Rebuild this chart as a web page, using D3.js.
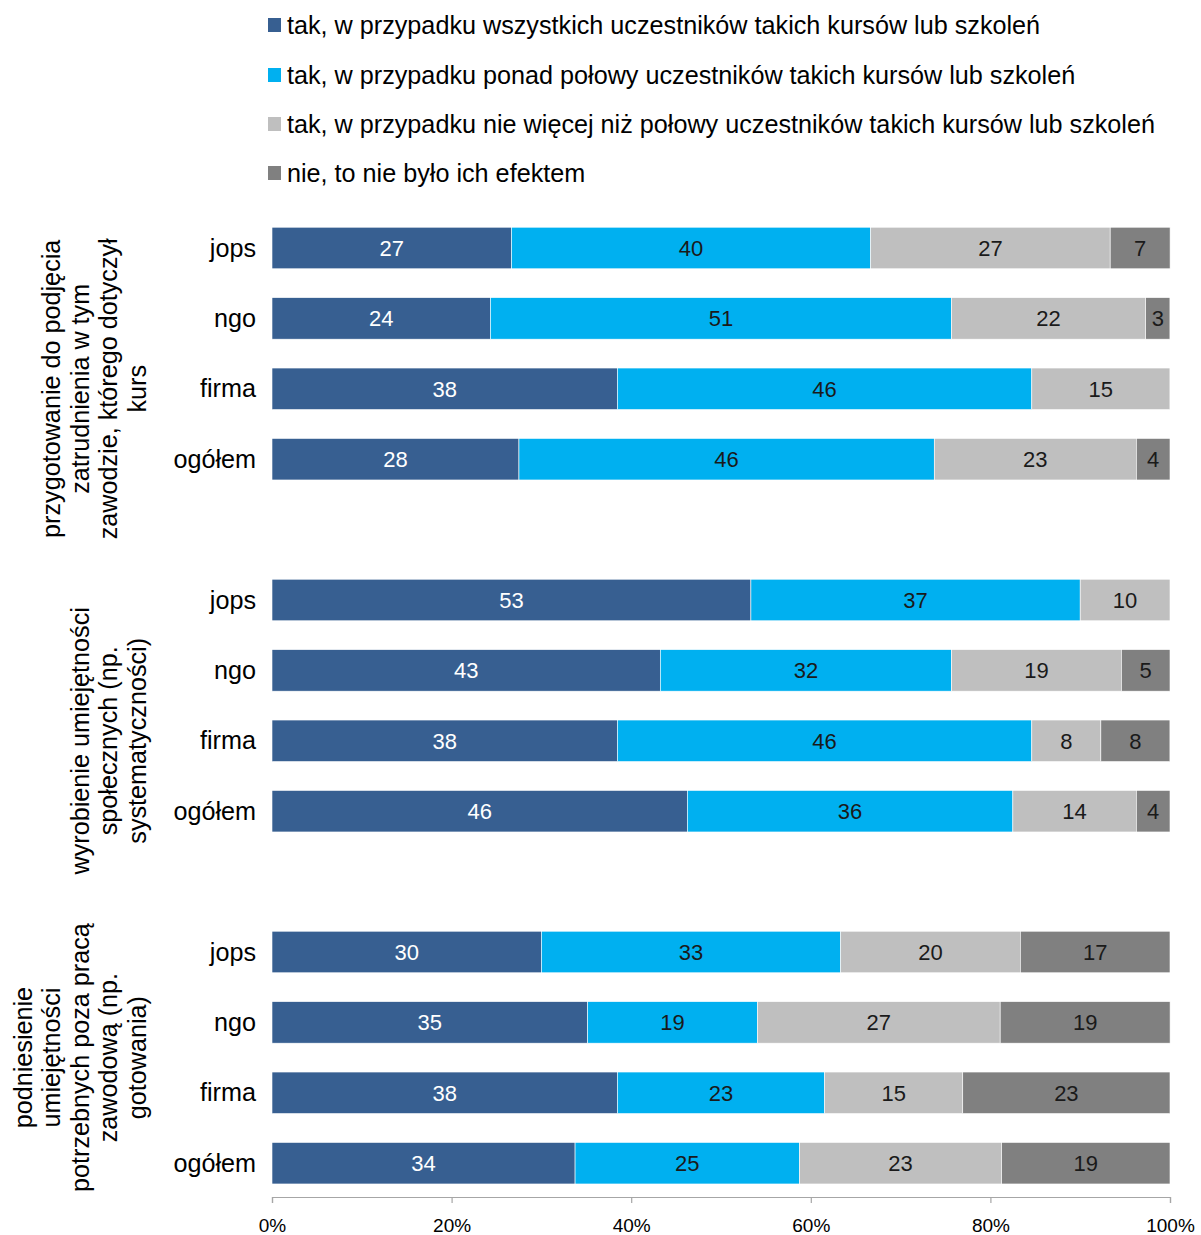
<!DOCTYPE html>
<html><head><meta charset="utf-8">
<script src="https://cdn.jsdelivr.net/npm/d3@7"></script>
<style>body{margin:0;background:#fff;} svg{display:block;font-family:"Liberation Sans",Arial,sans-serif;}</style>
</head><body>
<svg id="chart" width="1201" height="1235"></svg>
<script>
// Data
const seriesNames = [
  "tak, w przypadku wszystkich uczestników takich kursów lub szkoleń",
  "tak, w przypadku ponad połowy uczestników takich kursów lub szkoleń",
  "tak, w przypadku nie więcej niż połowy uczestników takich kursów lub szkoleń",
  "nie, to nie było ich efektem"
];
const seriesColors = ["#375f91", "#00b0f0", "#bfbfbf", "#808080"];
const labelColors = ["#ffffff", "#1a1a1a", "#1a1a1a", "#1a1a1a"];
const groupLabels = [
  ["przygotowanie do podjęcia", "zatrudnienia w tym", "zawodzie, którego dotyczył", "kurs"],
  ["wyrobienie umiejętności", "społecznych (np.", "systematyczności)"],
  ["podniesienie", "umiejętności", "potrzebnych poza pracą", "zawodową (np.", "gotowania)"]
];
const rowLabels = ["jops", "ngo", "firma", "ogółem"];
// rows: group index, row label ("" = spacer row between groups)
const rows = [
  {g:0,c:"jops"},{g:0,c:"ngo"},{g:0,c:"firma"},{g:0,c:"ogółem"},{g:0,c:""},
  {g:1,c:"jops"},{g:1,c:"ngo"},{g:1,c:"firma"},{g:1,c:"ogółem"},{g:1,c:""},
  {g:2,c:"jops"},{g:2,c:"ngo"},{g:2,c:"firma"},{g:2,c:"ogółem"}
];
// values per series, in order of non-blank rows (group1 jops..ogółem, group2, group3)
const sWszyscy = [26.67, 24.32, 38.46, 27.5,  53.33, 43.24, 38.46, 46.25,  30.0, 35.14, 38.46, 33.75];
const sPonad   = [40.0, 51.35, 46.15, 46.25,  36.67, 32.43, 46.15, 36.25,  33.33, 18.92, 23.08, 25.0];
const sNieWiecej = [26.67, 21.62, 15.38, 22.5,  10.0, 18.92, 7.69, 13.75,  20.0, 27.03, 15.38, 22.5];
const sNie     = [6.67, 2.70, 0, 3.75,  0, 5.41, 7.69, 3.75,  16.67, 18.92, 23.08, 18.75];
const tickValues = [0, 20, 40, 60, 80, 100];

const FS = 25.2;
const svg = d3.select("#chart");
const x = d3.scaleLinear().domain([0, 100]).range([272, 1170]);
const y = d3.scaleBand().domain(d3.range(rows.length)).range([212.8, 1198.4]).paddingInner(0.41).paddingOuter(0.205);

const series = [sWszyscy, sPonad, sNieWiecej, sNie];
const dataRows = rows.map((r,i)=>({...r, idx:i})).filter(r=>r.c!=="");
dataRows.forEach((r,k)=>{
  let acc = 0;
  r.segs = series.map((s,si)=>{ const v=s[k]; const seg={si, v, x0:acc, x1:acc+v}; acc+=v; return seg; });
});

// bars
const rowG = svg.append("g").selectAll("g").data(dataRows).join("g");
rowG.selectAll("rect").data(d=>d.segs.filter(s=>s.v>0).map(s=>({...s,row:d.idx}))).join("rect")
  .attr("x", s=>x(s.x0)).attr("width", s=>x(s.x1)-x(s.x0))
  .attr("y", s=>y(s.row)).attr("height", y.bandwidth())
  .attr("fill", s=>seriesColors[s.si])
  .attr("stroke", "#ffffff").attr("stroke-width", 0.6);
rowG.selectAll("text").data(d=>d.segs.filter(s=>s.v>0).map(s=>({...s,row:d.idx}))).join("text")
  .attr("x", s=>(x(s.x0)+x(s.x1))/2).attr("y", s=>y(s.row)+y.bandwidth()/2)
  .attr("dy","0.36em").attr("text-anchor","middle")
  .attr("font-size", 22).attr("fill", s=>labelColors[s.si])
  .text(s=>Math.round(s.v));

// row labels
svg.append("g").selectAll("text").data(dataRows).join("text")
  .attr("x", 256).attr("y", d=>y(d.idx)+y.bandwidth()/2).attr("dy","0.34em")
  .attr("text-anchor","end").attr("font-size", FS).attr("fill","#000")
  .text(d=>d.c);

// group labels
const step = y.step();
groupLabels.forEach((lines, gi)=>{
  const idxs = rows.map((r,i)=>({r,i})).filter(o=>o.r.g===gi).map(o=>o.i);
  const top = y(idxs[0]) - step*y.paddingInner()/2;
  const bot = y(idxs[idxs.length-1]) + y.bandwidth() + step*y.paddingInner()/2;
  const cy = (top+bot)/2;
  const lastX = 136.5, lh = 28.4;
  const t = svg.append("text").attr("transform", `translate(0,${cy}) rotate(-90)`)
    .attr("text-anchor","middle").attr("font-size", FS).attr("fill","#000");
  lines.forEach((ln, li)=>{
    const cx = lastX - (lines.length-1-li)*lh;
    t.append("tspan").attr("x",0).attr("y", cx).attr("dy","0.36em").text(ln);
  });
});

// x axis
const axY = 1197;
const axis = svg.append("g").attr("transform", `translate(0,${axY})`)
  .call(d3.axisBottom(x).tickValues(tickValues).tickFormat(d=>d+"%").tickSize(6).tickPadding(16));
axis.select(".domain").attr("stroke","#a6a6a6").attr("stroke-width",1.2);
axis.selectAll(".tick line").attr("stroke","#a6a6a6").attr("stroke-width",1.2);
axis.selectAll(".tick text").attr("font-size", 19).attr("fill","#000").attr("font-family",'"Liberation Sans",Arial,sans-serif');

// legend
const legendY = [25, 75, 124, 173];
const lg = svg.append("g").selectAll("g").data(seriesNames).join("g")
  .attr("transform", (d,i)=>`translate(268,${legendY[i]})`);
lg.append("rect").attr("x",0).attr("y",-7).attr("width",13).attr("height",14).attr("fill",(d,i)=>seriesColors[i]);
lg.append("text").attr("x",19).attr("y",0).attr("dy","0.34em").attr("font-size",FS).attr("fill","#000").text(d=>d);
</script>
</body></html>
